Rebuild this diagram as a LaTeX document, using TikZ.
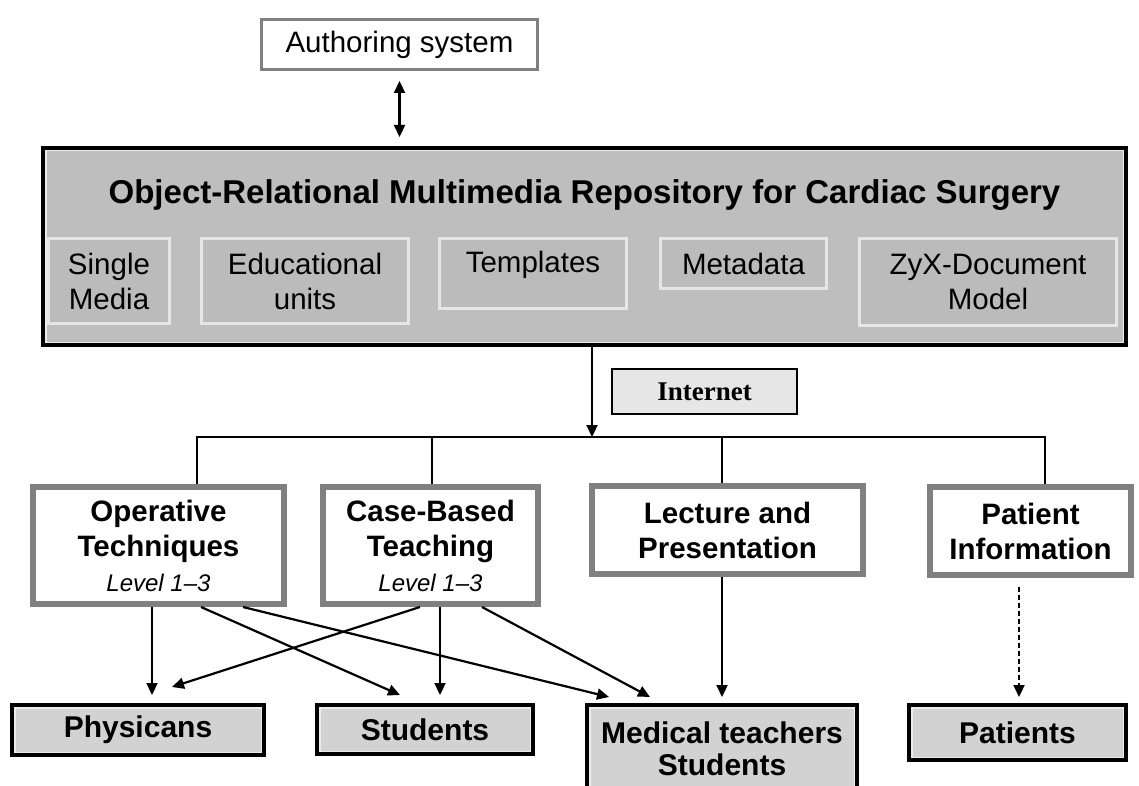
\documentclass[tikz,border=0pt]{standalone}
\usepackage{fontspec}
\setmainfont{Liberation Sans}
\newfontfamily\serifface{Liberation Serif}
\usetikzlibrary{arrows.meta}
\definecolor{mainfill}{HTML}{BEBEBE}
\definecolor{subfill}{HTML}{BBBBBB}
\definecolor{subline}{HTML}{E6E6E6}
\definecolor{outfill}{HTML}{D2D2D2}
\definecolor{netfill}{HTML}{E6E6E6}
\definecolor{boxline}{HTML}{808080}
\definecolor{innerline}{HTML}{ECECEC}
\tikzset{
  innerrim/.style={path picture={\draw[draw=innerline, line width=1.5pt]
      ([shift={(2.75pt,2.75pt)}]path picture bounding box.south west) rectangle
      ([shift={(-2.75pt,-2.75pt)}]path picture bounding box.north east);}},
  authbox/.style={draw=boxline, line width=3pt, fill=white, inner sep=0pt,
      font=\fontsize{29.5}{35}\selectfont},
  mainbox/.style={draw=black, line width=4pt, fill=mainfill, inner sep=0pt, innerrim},
  subbox/.style={draw=subline, line width=3pt, fill=subfill, align=center, inner sep=0pt,
      font=\fontsize{29.5}{35}\selectfont},
  upbox/.style={draw=boxline, line width=6pt, fill=white, align=center, inner sep=0pt,
      font=\bfseries\fontsize{29.5}{35}\selectfont},
  outbox/.style={draw=black, line width=4pt, fill=outfill, align=center, inner sep=0pt,
      font=\bfseries\fontsize{30}{32}\selectfont, innerrim},
  netbox/.style={draw=black, line width=2pt, fill=netfill, inner sep=0pt,
      font=\serifface\bfseries\fontsize{27}{30}\selectfont},
  conn/.style={line width=2.2pt, draw=black},
  arr/.style={conn, -{Triangle[length=12pt,width=11pt]}},
  dblarr/.style={conn, {Triangle[length=12pt,width=11pt]}-{Triangle[length=12pt,width=11pt]}},
  dasharr/.style={arr, dash pattern=on 5pt off 3pt},
}
\begin{document}
\begin{tikzpicture}[x=1pt,y=-1pt]
\useasboundingbox (0,0) rectangle (1139,786);
\clip (0,0) rectangle (1139,786);
\fill[white] (0,0) rectangle (1139,786);

% top
\node[authbox, minimum width=276pt, minimum height=50pt] (auth) at (399.5,44.5) {Authoring system};
\node[mainbox, minimum width=1083pt, minimum height=197pt] (main) at (584.5,246.5) {};
\node[font=\bfseries\fontsize{33}{38}\selectfont, inner sep=0pt] (title) at (584.5,195) {Object-Relational Multimedia Repository for Cardiac Surgery};

\node[subbox, minimum width=121pt, minimum height=85pt] (single) at (109,281) {Single\\Media};
\node[subbox, minimum width=207pt, minimum height=85pt] (edu) at (305,281) {Educational\\units};
\node[subbox, minimum width=187pt, minimum height=70pt, text depth=23pt] (tmpl) at (533,273.5) {Templates};
\node[subbox, minimum width=166pt, minimum height=50pt] (meta) at (743.5,263.5) {Metadata};
\node[subbox, minimum width=257pt, minimum height=87pt] (zyx) at (988,282) {ZyX-Document\\Model};

\draw[dblarr, shorten <=10pt, shorten >=9pt] (auth.south) -- (auth.south |- main.north);

% internet and bus
\node[netbox, minimum width=185pt, minimum height=45pt] (net) at (704.5,391.5) {Internet};
\coordinate (bus) at (592,437);
\draw[arr] (main.south -| bus) -- (bus);

% upper boxes
\node[upbox, minimum width=251pt, minimum height=117pt] (op) at (158.5,545.5)
  {Operative\\Techniques\\{\mdseries\itshape\fontsize{24}{35}\selectfont Level 1–3}};
\node[upbox, minimum width=215pt, minimum height=117pt] (case) at (430.5,545.5)
  {Case-Based\\Teaching\\{\mdseries\itshape\fontsize{24}{35}\selectfont Level 1–3}};
\node[upbox, minimum width=271pt, minimum height=88pt] (lec) at (727.5,530) {Lecture and\\Presentation};
\node[upbox, minimum width=201pt, minimum height=88pt] (pat) at (1030.5,531) {Patient\\Information};

\draw[conn] ([xshift=38.5pt]op.north) -- ++(0,-47) -| ([xshift=14.5pt]pat.north);
\draw[conn] ([xshift=1.5pt]case.north) -- ([xshift=1.5pt]case.north |- bus);
\draw[conn] ([xshift=-5.5pt]lec.north) -- ([xshift=-5.5pt]lec.north |- bus);

% target boxes
\node[outbox, minimum width=252pt, minimum height=50pt] (phys) at (138,730) {Physicans};
\node[outbox, minimum width=216pt, minimum height=49pt] (stud) at (425,729.5) {Students};
\node[outbox, minimum width=270pt, minimum height=88pt] (med) at (722,749) {Medical teachers\\Students};
\node[outbox, minimum width=217pt, minimum height=55pt] (patients) at (1017.5,732.5) {Patients};

% arrows
\draw[arr, shorten >=8pt] ([xshift=-6.5pt]op.south) -- ([xshift=-6.5pt]op.south |- phys.north);
\draw[arr] ([xshift=42.5pt]op.south) -- ([xshift=-25pt,yshift=8pt]stud.north);
\draw[arr] ([xshift=84.5pt]op.south) -- ([xshift=-113pt,yshift=6pt]med.north);
\draw[arr] ([xshift=-10.5pt]case.south) -- ([xshift=34pt,yshift=16pt]phys.north);
\draw[arr, shorten >=8pt] ([xshift=9.5pt]case.south) -- ([xshift=9.5pt]case.south |- stud.north);
\draw[arr] ([xshift=51.5pt]case.south) -- ([xshift=-72pt,yshift=6pt]med.north);
\draw[arr] ([xshift=-5.5pt]lec.south) -- ([yshift=6pt]med.north);
\draw[dasharr, shorten <=9pt] ([xshift=-11.5pt]pat.south) -- ([xshift=1.5pt,yshift=6pt]patients.north);
\end{tikzpicture}
\end{document}
